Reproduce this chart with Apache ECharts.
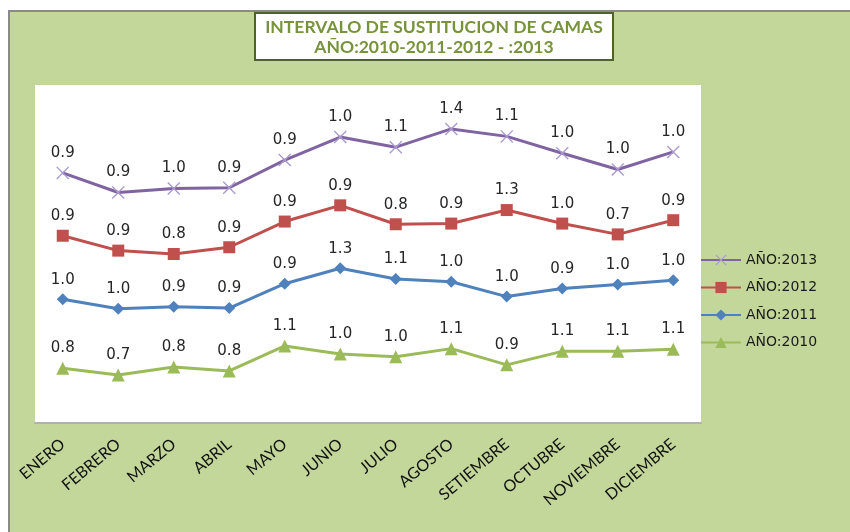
<!DOCTYPE html>
<html>
<head>
<meta charset="utf-8">
<script src="https://cdn.jsdelivr.net/npm/echarts@6/dist/echarts.min.js"></script>
<style>html,body{margin:0;padding:0;background:#fff;}#c{width:850px;height:532px;}</style>
</head>
<body>
<div id="c"></div>
<script>
const categories = ['ENERO','FEBRERO','MARZO','ABRIL','MAYO','JUNIO','JULIO','AGOSTO','SETIEMBRE','OCTUBRE','NOVIEMBRE','DICIEMBRE'];
const seriesNames = ['AÑO:2010','AÑO:2011','AÑO:2012','AÑO:2013'];
const values2010 = [0.81, 0.71, 0.83, 0.77, 1.14, 1.02, 0.98, 1.10, 0.86, 1.06, 1.06, 1.09];
const values2011 = [1.02, 0.98, 0.89, 0.93, 0.92, 1.27, 1.15, 0.99, 1.01, 0.93, 0.99, 1.02];
const values2012 = [0.94, 0.86, 0.78, 0.90, 0.92, 0.93, 0.81, 0.86, 1.28, 0.96, 0.74, 0.89];
const values2013 = [0.93, 0.86, 0.97, 0.88, 0.91, 1.01, 1.14, 1.40, 1.09, 1.04, 0.96, 1.01];
const titleLines = ['INTERVALO DE SUSTITUCION DE CAMAS', 'AÑO:2010-2011-2012 - :2013'];

const crossPath = 'path://M0,1.5L1.5,0L10,8.5L18.5,0L20,1.5L11.5,10L20,18.5L18.5,20L10,11.5L1.5,20L0,18.5L8.5,10Z';

const labelCfg = {
  show: true, position: 'top', distance: 6,
  fontFamily: 'DejaVu Sans', fontSize: 15, color: '#262626',
  formatter: p => p.value.toFixed(1)
};

function mk(name, data, color, symbol, size, symColor) {
  return {
    name, type: 'line', stack: 'total', data,
    symbol, symbolSize: size,
    lineStyle: { color, width: 3 },
    itemStyle: { color: symColor || color },
    label: labelCfg,
    emphasis: { disabled: true }
  };
}

const chart = echarts.init(document.getElementById('c'), null, { renderer: 'canvas' });
chart.setOption({
  animation: false,
  backgroundColor: '#ffffff',
  graphic: [
    { type: 'rect', z: -10, shape: { x: 9, y: 11, width: 845, height: 525 },
      style: { fill: '#c4d79b', stroke: '#8a8a8a', lineWidth: 2 } },
    { type: 'rect', z: 10, shape: { x: 255, y: 13, width: 358, height: 47 },
      style: { fill: '#ffffff', stroke: '#4f6228', lineWidth: 2 } },
    { type: 'text', z: 11, x: 434, y: 37,
      style: { text: titleLines.join('\n'), align: 'center', verticalAlign: 'middle',
        fill: '#77933c', font: 'bold 17.5px Lato', lineHeight: 20 } }
  ],
  grid: { left: 35, right: 149, top: 85, bottom: 109, show: true,
    backgroundColor: '#ffffff', borderWidth: 0 },
  legend: {
    orient: 'vertical', left: 695, top: 248,
    itemWidth: 40, itemHeight: 14, itemGap: 13.5,
    data: ['AÑO:2013','AÑO:2012','AÑO:2011','AÑO:2010'],
    textStyle: { fontFamily: 'DejaVu Sans', fontSize: 14, color: '#1a1a1a' }
  },
  xAxis: {
    type: 'category', data: categories, boundaryGap: true,
    axisLine: { show: true, lineStyle: { color: '#b0b0b0', width: 2 } },
    axisTick: { show: false },
    axisLabel: { rotate: 40, margin: 19, fontFamily: 'Lato', fontSize: 16, color: '#111', interval: 0 }
  },
  yAxis: {
    type: 'value', min: 0, max: 5, interval: 1, show: false,
    splitLine: { show: false }
  },
  series: [
    mk(seriesNames[0], values2010, '#9bbb59', 'triangle', 13),
    mk(seriesNames[1], values2011, '#4f81bd', 'diamond', 12),
    mk(seriesNames[2], values2012, '#c0504d', 'rect', 12),
    mk(seriesNames[3], values2013, '#8064a2', crossPath, 13, '#a99bd0')
  ]
});
</script>
</body>
</html>
